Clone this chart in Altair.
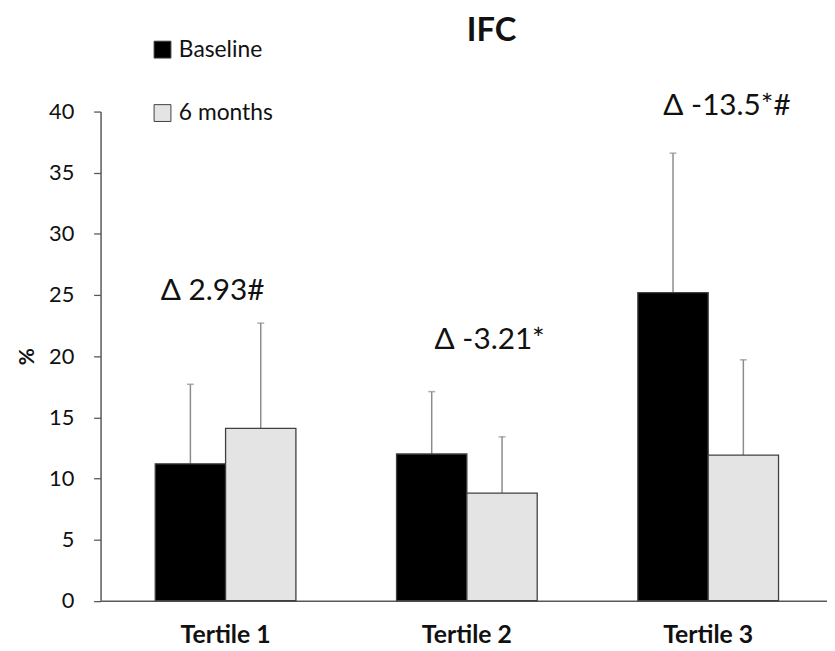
import altair as alt
import pandas as pd

categories = ["Tertile 1", "Tertile 2", "Tertile 3"]
groups = ["Baseline", "6 months"]
baseline = [11.2, 12.0, 25.2]
baseline_sd = [6.5, 5.1, 11.4]
six_months = [14.1, 8.8, 11.9]
six_months_sd = [8.6, 4.6, 7.8]
delta_labels = ["Δ 2.93#", "Δ -3.21*", "Δ -13.5*#"]
delta_label_y = [25.3, 21.3, 40.45]
y_ticks = [0, 5, 10, 15, 20, 25, 30, 35, 40]

rows = []
for i, c in enumerate(categories):
    rows.append(dict(tertile=c, group="Baseline", value=baseline[i], top=baseline[i] + baseline_sd[i]))
    rows.append(dict(tertile=c, group="6 months", value=six_months[i], top=six_months[i] + six_months_sd[i]))
df = pd.DataFrame(rows)

FONT = "Lato"
TEXT_COLOR = "#111111"
AXIS_COLOR = "#595959"
ERR_COLOR = "#8c8c8c"

x = alt.X(
    "tertile:N", sort=categories,
    scale=alt.Scale(paddingInner=0.417, paddingOuter=0.2137, align=0.53),
    axis=alt.Axis(title=None, labelAngle=0, labelFont=FONT, labelFontWeight="bold",
                  labelFontSize=25, labelPadding=22, ticks=False, domainColor=AXIS_COLOR,
                  domainWidth=1.5, labelColor=TEXT_COLOR),
)
xo = alt.XOffset("group:N", sort=groups, scale=alt.Scale(paddingInner=0, paddingOuter=0))
y = alt.Y(
    "value:Q",
    scale=alt.Scale(domain=[0, 40], nice=False),
    axis=alt.Axis(title="%", values=y_ticks, grid=False, labelFont=FONT, labelFontSize=22,
                  labelColor=TEXT_COLOR, labelPadding=20, tickSize=7, tickColor=AXIS_COLOR,
                  tickWidth=1.3, domainColor=AXIS_COLOR, domainWidth=1.5, titleFont=FONT,
                  titleFontSize=21, titleFontWeight="bold", titleColor=TEXT_COLOR,
                  titlePadding=11),
)

bars = alt.Chart(df).mark_bar(stroke="#404040", strokeWidth=1.3).encode(
    x=x, xOffset=xo, y=y,
    color=alt.Color(
        "group:N", sort=groups,
        scale=alt.Scale(domain=groups, range=["#000000", "#e4e4e4"]),
        legend=alt.Legend(title=None, orient="none", legendX=51, legendY=-74,
                          symbolType="square", symbolSize=289, symbolStrokeColor="#404040",
                          symbolStrokeWidth=1, labelFont=FONT, labelFontSize=23,
                          labelColor=TEXT_COLOR, rowPadding=40, labelOffset=5),
    ),
)
err = alt.Chart(df).mark_rule(color=ERR_COLOR, strokeWidth=1.5).encode(
    x=x, xOffset=xo, y="value:Q", y2="top:Q"
)
caps = alt.Chart(df).mark_tick(color=ERR_COLOR, thickness=1.5, size=7).encode(
    x=x, xOffset=xo, y="top:Q"
)

# small horizontal nudges of the three Δ annotations, as in the original
text_dx = [-13, 23, 19]
texts = []
for i, c in enumerate(categories):
    one = pd.DataFrame(dict(tertile=[c], label=[delta_labels[i]], ypos=[delta_label_y[i]]))
    texts.append(
        alt.Chart(one).mark_text(font=FONT, fontSize=30, color=TEXT_COLOR, dx=text_dx[i]).encode(
            x=x, y=alt.Y("ypos:Q"), text="label:N"
        )
    )

chart = alt.layer(err, caps, bars, *texts).properties(
    width=733, height=493.6,
    title=alt.TitleParams("IFC", font=FONT, fontSize=33, fontWeight="bold", color=TEXT_COLOR,
                          anchor="middle", dx=28, offset=-10),
    autosize=alt.AutoSizeParams(type="none"),
    padding={"left": 93.4, "top": 101.6, "right": 0, "bottom": 48},
).configure_view(stroke=None)

chart.save("out.html", embed_options={"renderer": "svg", "actions": False})
